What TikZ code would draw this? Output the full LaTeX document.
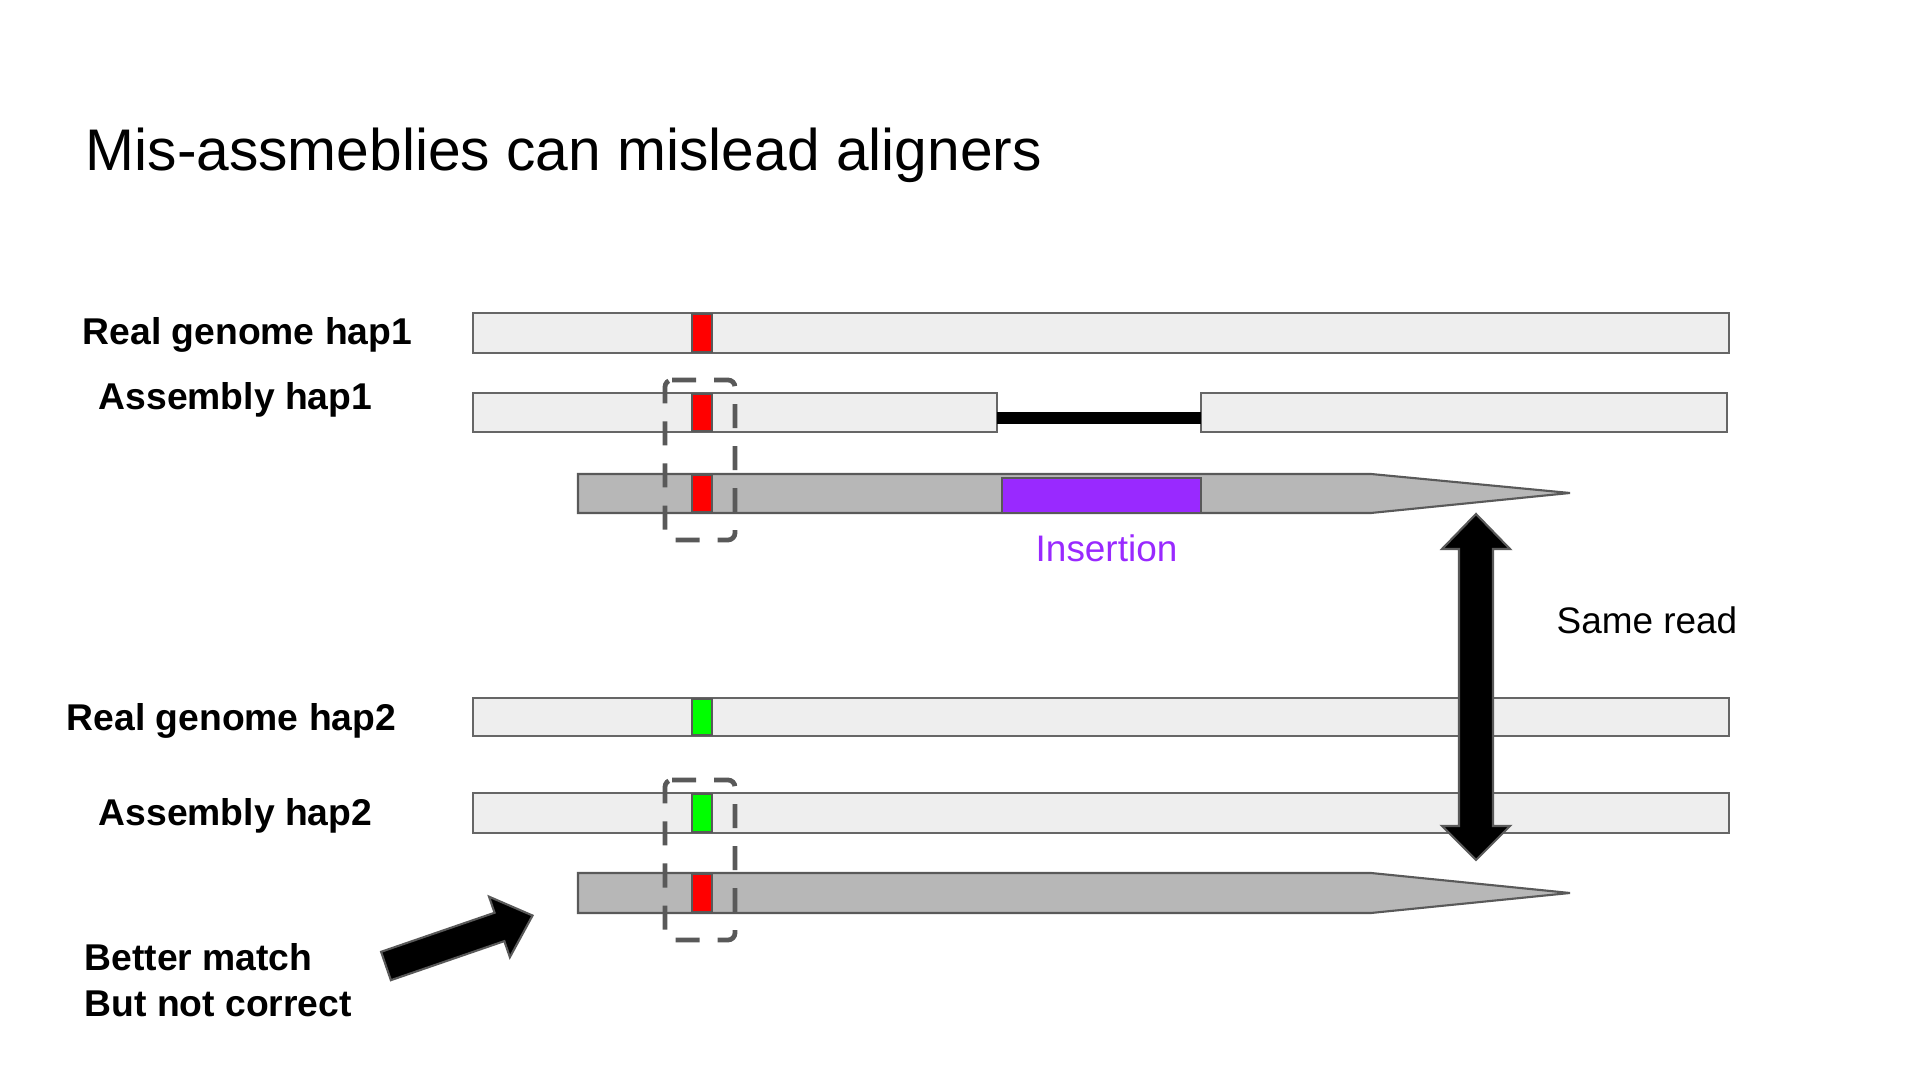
\documentclass[tikz,border=0pt]{standalone}
\usepackage{fontspec}
\setmainfont{Liberation Sans}
\usepackage{xcolor}
\usepackage{tikz}
\usetikzlibrary{positioning}
\definecolor{mybarfill}{RGB}{238,238,238}
\definecolor{mybardraw}{RGB}{102,102,102}
\definecolor{myreadfill}{RGB}{183,183,183}
\definecolor{mydarkgray}{RGB}{89,89,89}
\definecolor{myred}{RGB}{255,0,0}
\definecolor{mygreen}{RGB}{0,255,0}
\definecolor{mypurple}{RGB}{153,41,255}
\tikzset{
  bar/.style={draw=mybardraw, fill=mybarfill, line width=0.6pt},
  readbar/.style={draw=mydarkgray, fill=myreadfill, line width=0.6pt},
  redmark/.style={draw=mydarkgray, fill=myred, line width=0.6pt},
  greenmark/.style={draw=mydarkgray, fill=mygreen, line width=0.6pt},
  insblock/.style={draw=mydarkgray, fill=mypurple, line width=0.6pt},
  gapline/.style={draw=black, line width=0.12cm},
  hlbox/.style={draw=mydarkgray, line width=1.35pt, dash pattern=on 0.24cm off 0.18cm, rounded corners=2pt},
  bigarrow/.style={draw=mydarkgray, fill=black, line width=0.6pt},
  rowlabel/.style={anchor=base west, inner sep=0pt, font=\fontsize{10.6}{13.1}\selectfont\bfseries},
  notelabel/.style={anchor=base west, inner sep=0pt, font=\fontsize{10.5}{13.1}\selectfont}
}

\begin{document}
\begin{tikzpicture}[x=0.01cm, y=-0.01cm]
  \useasboundingbox (0,0) rectangle (1920,1080);

  % Title
  \node[anchor=base west, inner sep=0pt, font=\fontsize{16.7}{20}\selectfont] (title) at (85,171) {Mis-assmeblies can mislead aligners};

  % Row labels
  \node[rowlabel] (realone) at (82,345) {Real genome hap1};
  \node[rowlabel] (asmone) at (98,410) {Assembly hap1};
  \node[rowlabel] (realtwo) at (66,731) {Real genome hap2};
  \node[rowlabel] (asmtwo) at (98,826) {Assembly hap2};
  \node[anchor=north west, inner sep=0pt, align=left, font=\fontsize{10.6}{13.1}\selectfont\bfseries] (better) at (84,943) {Better match\\But not correct};

  % Haplotype 1: real genome, assembly with gap, read with insertion
  \filldraw[bar] (473,313) rectangle (1729,353);
  \filldraw[redmark] (692,314) rectangle (712,352);
  \filldraw[bar] (473,393) rectangle (997,432);
  \filldraw[bar] (1201,393) rectangle (1727,432);
  \draw[gapline] (997,418) -- (1201,418);
  \filldraw[redmark] (692,394) rectangle (712,431);
  \filldraw[readbar] (578,474) -- (1371,474) -- (1570,493) -- (1371,513) -- (578,513) -- cycle;
  \filldraw[redmark] (692,475) rectangle (712,512);
  \filldraw[insblock] (1002,478) rectangle (1201,513);
  \node[notelabel, text=mypurple] (ins) at (1035,562) {Insertion};

  % Haplotype 2: real genome, assembly, same read
  \filldraw[bar] (473,698) rectangle (1729,736);
  \filldraw[greenmark] (692,699) rectangle (712,735);
  \filldraw[bar] (473,793) rectangle (1729,833);
  \filldraw[greenmark] (692,794) rectangle (712,832);
  \filldraw[readbar] (578,873) -- (1371,873) -- (1570,893) -- (1371,913) -- (578,913) -- cycle;
  \filldraw[redmark] (692,874) rectangle (712,912);

  % Dashed highlight boxes round the variant column
  \draw[hlbox] (665,380) -- (735,380) -- (735,540) -- (665,540) -- cycle;
  \draw[hlbox] (665,780) -- (735,780) -- (735,940) -- (665,940) -- cycle;

  % Same read arrow
  \filldraw[bigarrow] (1476,514) -- (1510,549) -- (1493,549) -- (1493,826) -- (1510,826) -- (1476,860)
    -- (1442,826) -- (1459,826) -- (1459,549) -- (1442,549) -- cycle;
  \node[notelabel] (same) at (1556,634) {Same read};

  % Better match arrow
  \begin{scope}[shift={(386,966)}, rotate=19]
    \filldraw[bigarrow] (0,-15) -- (120,-15) -- (120,-32) -- (155,0) -- (120,32) -- (120,15) -- (0,15) -- cycle;
  \end{scope}
\end{tikzpicture}
\end{document}
